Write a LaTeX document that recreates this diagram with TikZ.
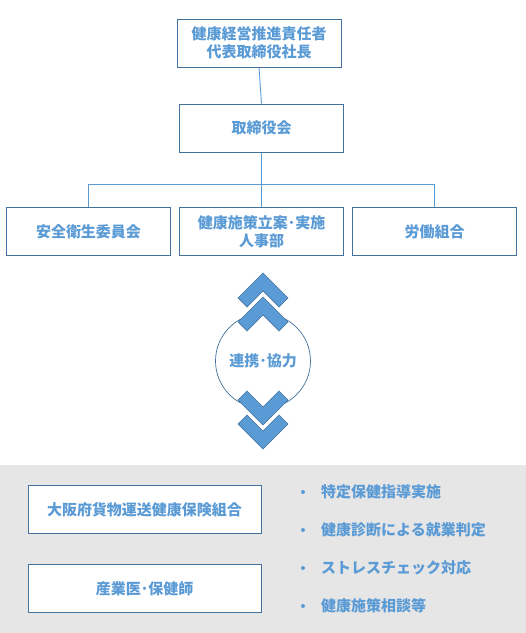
\documentclass[tikz,border=0pt]{standalone}
\usepackage{fontspec}
\newfontfamily\jp{Noto Sans CJK JP}
\usetikzlibrary{positioning}
\definecolor{txt}{HTML}{5B9BD5}
\definecolor{frame}{HTML}{41719C}
\definecolor{bg}{HTML}{E7E6E6}
\tikzset{
  box/.style={draw=frame, line width=1pt, fill=white, text=txt, align=center,
    font=\jp\bfseries\fontsize{15}{18.5}\selectfont,
    minimum width=164pt, minimum height=48pt, inner sep=0pt},
  wide/.style={box, minimum width=233pt},
  item/.style={text=txt, anchor=west, inner sep=0pt, font=\jp\bfseries\fontsize{15}{18}\selectfont},
  dot/.style={circle, fill=txt, inner sep=0pt, minimum size=4pt},
  link/.style={draw=txt, line width=0.9pt},
  chev/.style={fill=txt, draw=frame, line width=0.6pt},
}
\begin{document}
\begin{tikzpicture}[x=1pt,y=-1pt]
\useasboundingbox (0,0) rectangle (526,633);
\fill[bg] (0,465) rectangle (526,633);
\node[box] (ceo) at (259,43) {健康経営推進責任者\\代表取締役社長};
\node[box] (board) at (261.5,128) {取締役会};
\node[box] (hr) at (261.5,231.5) {健康施策立案･実施\\人事部};
\node[box, left=8pt of hr] (safety) {安全衛生委員会};
\node[box, right=8pt of hr] (union) {労働組合};
\draw[link] (ceo.south) -- (board.north);
\draw[link] (board.south) -- (hr.north);
\draw[link] (safety.north) -- ++(0,-23) -| (union.north);
\node[circle, draw=frame, line width=0.7pt, minimum size=95pt, text=txt,
  font=\jp\bfseries\fontsize{15}{18}\selectfont] (coop) at (263,361) {連携･協力};
\foreach \y in {273,297}
  \draw[chev] (263,\y) -- ++(25,25) -- ++(-9,9) -- ++(-16,-16) -- ++(-16,16) -- ++(-9,-9) -- cycle;
\foreach \y in {425,449}
  \draw[chev] (263,\y) -- ++(25,-25) -- ++(-9,-9) -- ++(-16,16) -- ++(-16,-16) -- ++(-9,9) -- cycle;
\node[wide] (kenpo) at (144.5,509.5) {大阪府貨物運送健康保険組合};
\node[wide] (doctor) at (144.5,588.5) {産業医･保健師};
\foreach \t [count=\i] in {特定保健指導実施,健康診断による就業判定,ストレスチェック対応,健康施策相談等} {
  \node[dot] (dot\i) at (303,454+38*\i) {};
  \node[item] (item\i) at (321,454+38*\i) {\t};
}
\end{tikzpicture}
\end{document}
